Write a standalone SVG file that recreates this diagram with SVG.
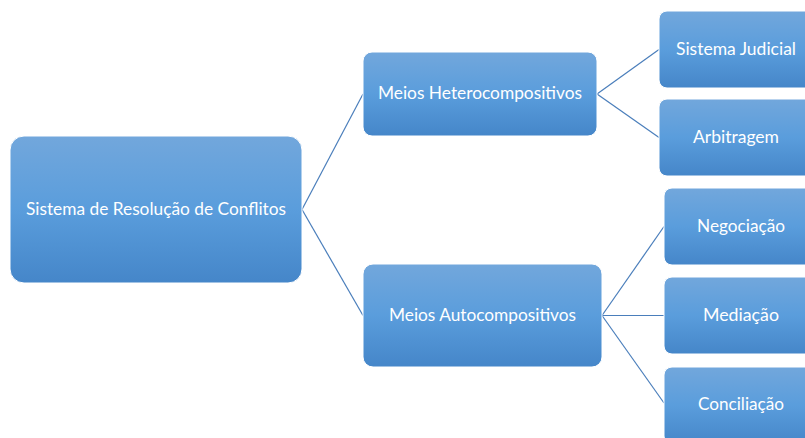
<svg xmlns="http://www.w3.org/2000/svg" width="805" height="438" viewBox="0 0 805 438">
  <defs>
    <linearGradient id="g" x1="0" y1="0" x2="0" y2="1">
      <stop offset="0" stop-color="#72a7dc"/>
      <stop offset="0.5" stop-color="#5a9ddc"/>
      <stop offset="1" stop-color="#4586c9"/>
    </linearGradient>
  </defs>
  <style>
    .box { fill: url(#g); stroke: #ffffff; stroke-width: 1; }
    .lbl { font-family: Lato, "Open Sans", "Liberation Sans", sans-serif; font-size: 18px; fill: #ffffff; text-anchor: middle; }
    .con { stroke: #4a7ebb; stroke-width: 1.2; fill: none; }
  </style>
  <rect width="805" height="438" fill="#ffffff"/>
  <g id="connectors">
    <line class="con" x1="302" y1="209.5" x2="363" y2="94"/>
    <line class="con" x1="302" y1="209.5" x2="363" y2="315.5"/>
    <line class="con" x1="597" y1="94" x2="659" y2="49.5"/>
    <line class="con" x1="597" y1="94" x2="659" y2="137.5"/>
    <line class="con" x1="602" y1="315.5" x2="664" y2="226.5"/>
    <line class="con" x1="602" y1="315.5" x2="664" y2="315.5"/>
    <line class="con" x1="602" y1="315.5" x2="664" y2="403"/>
  </g>
  <g id="root">
    <rect class="box" x="10" y="136" width="292" height="147" rx="14"/>
    <text class="lbl" x="156" y="215" textLength="260" lengthAdjust="spacingAndGlyphs">Sistema de Resolução de Conflitos</text>
  </g>
  <g id="hetero">
    <rect class="box" x="363" y="52" width="234" height="84" rx="9"/>
    <text class="lbl" x="480" y="99" textLength="204" lengthAdjust="spacingAndGlyphs">Meios Heterocompositivos</text>
  </g>
  <g id="auto">
    <rect class="box" x="363" y="264" width="239" height="103" rx="10"/>
    <text class="lbl" x="482.5" y="321" textLength="187" lengthAdjust="spacingAndGlyphs">Meios Autocompositivos</text>
  </g>
  <g id="judicial">
    <rect class="box" x="659" y="11" width="160" height="77" rx="8"/>
    <text class="lbl" x="736" y="55" textLength="120" lengthAdjust="spacingAndGlyphs">Sistema Judicial</text>
  </g>
  <g id="arbitragem">
    <rect class="box" x="659" y="99" width="160" height="77" rx="8"/>
    <text class="lbl" x="736" y="143" textLength="86" lengthAdjust="spacingAndGlyphs">Arbitragem</text>
  </g>
  <g id="negociacao">
    <rect class="box" x="664" y="188" width="160" height="77" rx="8"/>
    <text class="lbl" x="741" y="232" textLength="88" lengthAdjust="spacingAndGlyphs">Negociação</text>
  </g>
  <g id="mediacao">
    <rect class="box" x="664" y="277" width="160" height="77" rx="8"/>
    <text class="lbl" x="741" y="321" textLength="76" lengthAdjust="spacingAndGlyphs">Mediação</text>
  </g>
  <g id="conciliacao">
    <rect class="box" x="664" y="367" width="160" height="77" rx="8"/>
    <text class="lbl" x="741" y="410" textLength="86" lengthAdjust="spacingAndGlyphs">Conciliação</text>
  </g>
</svg>
